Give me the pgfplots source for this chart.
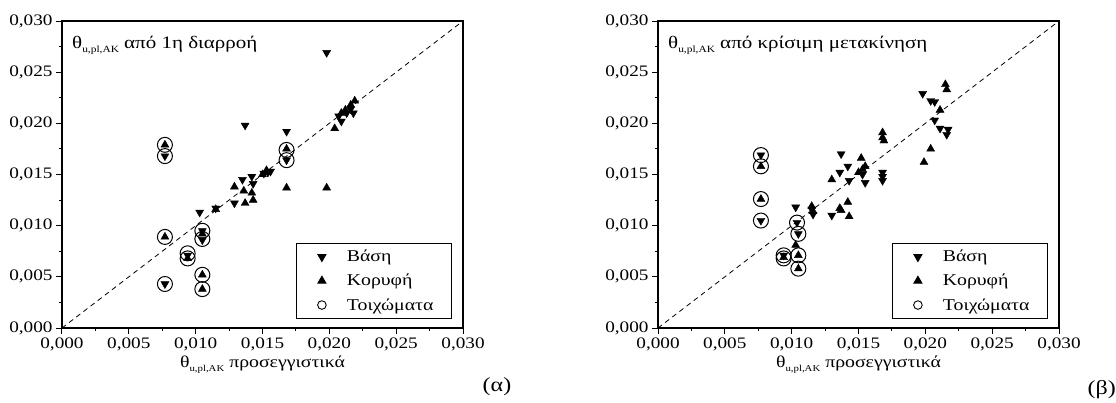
\documentclass[border=0pt]{standalone}
\usepackage{fontspec}
\setmainfont{Liberation Serif}[FakeStretch=1.2]
\usepackage{pgfplots}
\pgfplotsset{compat=1.18}
\usepackage{pgfplotstable}

\pgfplotstableread{
x y
0.0198 0.0269
0.0137 0.0198
0.0168 0.0192
0.0077 0.0168
0.0168 0.0164
0.0135 0.0145
0.0142 0.0148
0.0143 0.0141
0.0129 0.0122
0.0151 0.0151
0.0154 0.0152
0.0156 0.0153
0.0115 0.0117
0.0103 0.0113
0.0105 0.0095
0.0105 0.0086
0.0094 0.0071
0.0077 0.0043
0.0207 0.0207
0.0213 0.0210
0.0218 0.0210
0.0209 0.0202
0.0216 0.0214
}\AbasiTable
\pgfplotstableread{
x y
0.0077 0.0179
0.0168 0.0175
0.0204 0.0195
0.0129 0.0138
0.0168 0.0137
0.0198 0.0137
0.0136 0.0134
0.0142 0.0132
0.0137 0.0122
0.0143 0.0125
0.0115 0.0116
0.0077 0.0089
0.0105 0.0092
0.0094 0.0068
0.0105 0.0052
0.0105 0.0038
0.0150 0.0150
0.0153 0.0154
0.0209 0.0210
0.0212 0.0213
0.0216 0.0218
0.0219 0.0222
}\AkorTable
\pgfplotstableread{
x y
0.0077 0.0179
0.0077 0.0168
0.0168 0.0174
0.0168 0.0164
0.0105 0.0095
0.0105 0.0087
0.0077 0.0089
0.0094 0.0073
0.0094 0.0068
0.0105 0.0052
0.0105 0.0038
0.0077 0.0043
}\AtoiTable
\pgfplotstableread{
x y
0.0077 0.0169
0.0077 0.0105
0.0103 0.0118
0.0104 0.0103
0.0105 0.0092
0.0094 0.0071
0.0115 0.0116
0.0116 0.0111
0.0130 0.0110
0.0137 0.0170
0.0142 0.0158
0.0136 0.0152
0.0143 0.0144
0.0155 0.0142
0.0153 0.0150
0.0168 0.0152
0.0168 0.0148
0.0168 0.0144
0.0198 0.0229
0.0204 0.0222
0.0207 0.0221
0.0207 0.0203
0.0211 0.0195
0.0216 0.0189
0.0217 0.0194
}\BbasiTable
\pgfplotstableread{
x y
0.0077 0.0158
0.0077 0.0126
0.0103 0.0081
0.0105 0.0071
0.0105 0.0058
0.0094 0.0069
0.0115 0.0119
0.0116 0.0114
0.0136 0.0117
0.0137 0.0115
0.0142 0.0123
0.0143 0.0109
0.0130 0.0145
0.0152 0.0166
0.0153 0.0155
0.0155 0.0158
0.0150 0.0152
0.0168 0.0191
0.0168 0.0186
0.0169 0.0183
0.0199 0.0162
0.0204 0.0175
0.0211 0.0213
0.0215 0.0238
0.0216 0.0233
}\BkorTable
\pgfplotstableread{
x y
0.0077 0.0169
0.0077 0.0158
0.0077 0.0126
0.0077 0.0105
0.0104 0.0103
0.0105 0.0092
0.0105 0.0071
0.0105 0.0058
0.0094 0.0071
0.0094 0.0068
}\BtoiTable

\pgfplotsset{
  myax/.style={
    scale only axis, width=401bp, height=307bp,
    xmin=0, xmax=0.03, ymin=0, ymax=0.03,
    xtick={0,0.005,...,0.0301}, ytick={0,0.005,...,0.0301},
    minor tick num=1,
    xtick pos=bottom, ytick pos=left, tick align=outside,
    major tick length=6bp, minor tick length=3bp,
    every tick/.style={black, line width=1bp},
    axis line style={line width=1.5bp},
    scaled ticks=false,
    /pgf/number format/.cd, fixed, fixed zerofill, precision=3, use comma, assume math mode=true,
    /pgfplots/.cd,
    tick label style={font=\fontsize{16bp}{19bp}\selectfont},
    label style={font=\fontsize{16.5bp}{19bp}\selectfont},
    xlabel={θ\raisebox{-4bp}{\fontsize{9bp}{10bp}\selectfont u,pl,AK} προσεγγιστικά},
    xlabel style={yshift=2bp},
    legend style={at={(rel axis cs:0.9726,0.029)}, anchor=south east, draw=black, line width=1bp,
      font=\fontsize{16.5bp}{19bp}\selectfont, inner xsep=16bp, inner ysep=5bp, row sep=7bp,
      /tikz/every odd column/.append style={column sep=14bp}},
    legend cell align=left,
  },
  basis/.style={only marks, mark=triangle*, mark size=4.6bp, mark options={rotate=180, fill=black, draw=black}},
  koryfi/.style={only marks, mark=triangle*, mark size=4.6bp, mark options={fill=black, draw=black}},
  toix/.style={only marks, mark=o, mark size=7.5bp, mark options={draw=black, line width=1bp},
    legend image code/.code={\draw[black, line width=0.9bp] (0cm,0cm) (0.3cm,0cm) circle (4.3bp) (0.6cm,0cm);}},
}

\begin{document}
\begin{tikzpicture}
\path[use as bounding box] (-62bp,-75bp) rectangle (1054bp,328bp);
\begin{axis}[myax, at={(0,0)}]
\addplot[black, dashed, line width=0.8bp, dash pattern=on 5bp off 4bp, forget plot] coordinates {(0,0) (0.03,0.03)};
\addplot[basis] table {\AbasiTable};
\addplot[koryfi] table {\AkorTable};
\addplot[toix] table {\AtoiTable};
\legend{Βάση, Κορυφή, Τοιχώματα}
\node[anchor=north west, font=\fontsize{17.5bp}{20bp}\selectfont, inner sep=0pt] at ([xshift=10bp,yshift=-15bp]rel axis cs:0,1) {θ\raisebox{-4bp}{\fontsize{9.5bp}{10bp}\selectfont u,pl,AK} από 1η διαρροή};
\end{axis}
\begin{axis}[myax, at={(596bp,0)}]
\addplot[black, dashed, line width=0.8bp, dash pattern=on 5bp off 4bp, forget plot] coordinates {(0,0) (0.03,0.03)};
\addplot[basis] table {\BbasiTable};
\addplot[koryfi] table {\BkorTable};
\addplot[toix] table {\BtoiTable};
\legend{Βάση, Κορυφή, Τοιχώματα}
\node[anchor=north west, font=\fontsize{17.5bp}{20bp}\selectfont, inner sep=0pt] at ([xshift=10bp,yshift=-15bp]rel axis cs:0,1) {θ\raisebox{-4bp}{\fontsize{9.5bp}{10bp}\selectfont u,pl,AK} από κρίσιμη μετακίνηση};
\end{axis}
\node[font=\fontsize{20bp}{24bp}\selectfont] at (435bp,-59bp) {(α)};
\node[font=\fontsize{20bp}{24bp}\selectfont, anchor=east, inner sep=0pt] at (1054bp,-62bp) {(β)};
\end{tikzpicture}
\end{document}
